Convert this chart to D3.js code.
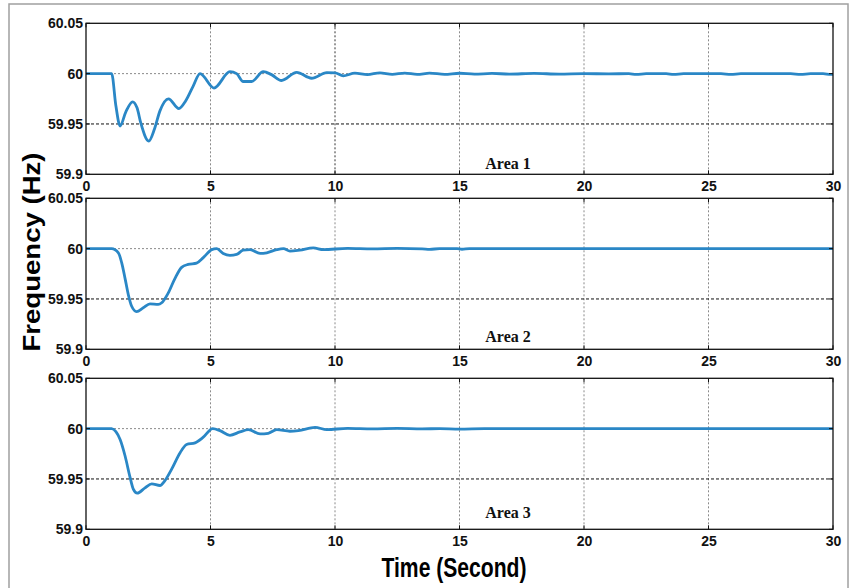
<!DOCTYPE html>
<html>
<head>
<meta charset="utf-8">
<script src="https://cdn.jsdelivr.net/npm/d3@7"></script>
<style>
  html, body { margin: 0; padding: 0; background: #fff; }
  svg { display: block; }
</style>
</head>
<body>
<svg id="chart" width="849" height="588"></svg>
<script>
// Frequency response of a three-area system after a load disturbance
const timeTicks = [0, 5, 10, 15, 20, 25, 30];
const freqTicks = [59.9, 59.95, 60, 60.05];
const freqTickLabels = ["59.9", "59.95", "60", "60.05"];
const areaNames = ["Area 1", "Area 2", "Area 3"];

const area1Time = [0, 1.03, 1.2, 1.37, 1.6, 1.87, 2.05, 2.2, 2.52, 2.75, 2.97, 3.31, 3.73, 4.0, 4.3, 4.58,
  5.14, 5.78, 6.05, 6.31, 6.65, 7.12, 7.45, 7.85, 8.46, 9.06, 9.67, 10.0, 10.33, 10.8, 11.3, 11.8,
  12.3, 12.8, 13.3, 13.8, 14.4, 15.0, 15.6, 16.3, 17.0, 18.0, 19.0, 20.0, 21.0, 21.8, 22.1, 22.5,
  23.3, 23.6, 24.0, 25.5, 25.9, 26.3, 28.3, 28.7, 29.1, 29.6, 29.9, 30.0];
const area1Freq = [60, 60, 59.968, 59.948, 59.962, 59.972, 59.966, 59.951, 59.933, 59.945, 59.963, 59.975,
  59.9653, 59.9728, 59.9874, 60.0, 59.9857, 60.0019, 60.0, 59.9922, 59.9922, 60.0019, 59.999, 59.9932,
  60.0013, 59.9954, 60.001, 60.0008, 59.9978, 60.0005, 59.999, 60.0008, 59.9992, 60.0006, 59.9992,
  60.0005, 59.9993, 60.0004, 59.9995, 60.0002, 59.9996, 60.0002, 59.9996, 60.0, 59.9998, 60.0,
  59.9992, 60.0, 60.0, 59.9992, 60.0, 60.0, 59.9992, 60.0, 60.0, 59.9992, 60.0, 60.0, 59.9992, 59.9993];

const area2Time = [0, 1.03, 1.3, 1.43, 1.57, 1.7, 1.83, 2.03, 2.3, 2.57, 2.9, 3.04, 3.3, 3.57, 3.84, 4.1,
  4.44, 4.71, 5.05, 5.25, 5.51, 5.78, 6.05, 6.31, 6.59, 6.99, 7.26, 7.66, 7.93, 8.19, 8.59, 9.13,
  9.53, 10.5, 11.5, 12.5, 13.5, 13.8, 14.2, 14.9, 15.1, 15.4, 17, 20, 25, 30];
const area2Freq = [60, 60, 59.9959, 59.9863, 59.9702, 59.9542, 59.943, 59.9375, 59.9413, 59.9452, 59.9446,
  59.9462, 59.9558, 59.9702, 59.9814, 59.9843, 59.9856, 59.9911, 59.999, 60.0, 59.9952, 59.9933,
  59.9942, 59.9985, 59.999, 59.9952, 59.9959, 59.999, 60.0, 59.9975, 59.9985, 60.0007, 59.999,
  60.0003, 59.9998, 60.0002, 59.9998, 59.9993, 60.0, 60.0, 59.9994, 60.0, 60.0, 60.0, 60.0, 60.0];

const area3Time = [0, 1.03, 1.2, 1.37, 1.57, 1.77, 1.9, 2.06, 2.37, 2.64, 2.97, 3.17, 3.44, 3.78, 4.04,
  4.38, 4.71, 5.09, 5.38, 5.78, 6.18, 6.52, 6.99, 7.32, 7.66, 8.19, 8.53, 9.2, 9.67, 10.5, 11.5,
  12.5, 13.5, 14.2, 15.0, 16, 20, 25, 30];
const area3Freq = [60, 60, 59.997, 59.9892, 59.9728, 59.9516, 59.94, 59.9359, 59.9412, 59.9451, 59.9435,
  59.9484, 59.9598, 59.9761, 59.9843, 59.9859, 59.9915, 60.0, 59.998, 59.9934, 59.9967, 59.999,
  59.9947, 59.9954, 59.999, 59.9974, 59.998, 60.0013, 59.999, 60.0003, 59.9998, 60.0002, 59.9998,
  60.0, 59.9996, 60.0, 60.0, 60.0, 60.0];

const seriesTime = [area1Time, area2Time, area3Time];
const seriesFreq = [area1Freq, area2Freq, area3Freq];

// Layout of the three stacked axes
const plotLeft = 86, plotRight = 833;
const panelTops = [23.3, 198.3, 378.3];
const panelHeight = 151;
const areaLabelOffset = [5, 7, 11];

const svg = d3.select("#chart");
const sansBold = "'Liberation Sans', Arial, sans-serif";

// Outer figure border
svg.append("rect")
  .attr("x", 9).attr("y", 4).attr("width", 839).attr("height", 620)
  .attr("fill", "none").attr("stroke", "#a0a0a0").attr("stroke-width", 1.5);

const x = d3.scaleLinear().domain([0, 30]).range([plotLeft, plotRight]);

panelTops.forEach((top, i) => {
  const bottom = top + panelHeight;
  const y = d3.scaleLinear().domain([59.9, 60.05]).range([bottom, top]);
  const g = svg.append("g");

  // Vertical grid
  g.selectAll("line.vgrid")
    .data(timeTicks.filter(t => t > 0 && t < 30))
    .join("line")
    .attr("x1", d => x(d)).attr("x2", d => x(d))
    .attr("y1", top).attr("y2", bottom)
    .attr("stroke", d => (i === 0 && d === 10) ? "#333" : "#8a8a8a")
    .attr("stroke-width", 1)
    .attr("stroke-dasharray", "2,2");

  // Horizontal grid
  g.selectAll("line.hgrid")
    .data(freqTicks.filter(f => f > 59.9 && f < 60.05))
    .join("line")
    .attr("x1", plotLeft).attr("x2", plotRight)
    .attr("y1", d => y(d)).attr("y2", d => y(d))
    .attr("stroke", d => d < 59.99 ? "#111" : "#8a8a8a")
    .attr("stroke-width", 1)
    .attr("stroke-dasharray", d => d < 59.99 ? "3,2" : "2,2");

  // Frequency trace
  const pts = seriesTime[i].map((t, k) => [t, seriesFreq[i][k]]);
  const line = d3.line()
    .x(d => x(d[0]))
    .y(d => y(d[1]))
    .curve(d3.curveMonotoneX);
  g.append("path")
    .attr("d", line(pts))
    .attr("fill", "none")
    .attr("stroke", "#2a87c6")
    .attr("stroke-width", 2.8)
    .attr("stroke-linejoin", "round");

  // Axes box
  g.append("rect")
    .attr("x", plotLeft).attr("y", top)
    .attr("width", plotRight - plotLeft).attr("height", panelHeight)
    .attr("fill", "none").attr("stroke", "#111").attr("stroke-width", 1.3);

  // Inner ticks on all sides
  const tickLen = 4;
  timeTicks.forEach(t => {
    g.append("line").attr("x1", x(t)).attr("x2", x(t)).attr("y1", bottom).attr("y2", bottom - tickLen)
      .attr("stroke", "#111");
    g.append("line").attr("x1", x(t)).attr("x2", x(t)).attr("y1", top).attr("y2", top + tickLen)
      .attr("stroke", "#111");
  });
  freqTicks.forEach(f => {
    g.append("line").attr("x1", plotLeft).attr("x2", plotLeft + tickLen).attr("y1", y(f)).attr("y2", y(f))
      .attr("stroke", "#111");
    g.append("line").attr("x1", plotRight).attr("x2", plotRight - tickLen).attr("y1", y(f)).attr("y2", y(f))
      .attr("stroke", "#111");
  });

  // Bottom tick labels
  const xAxis = d3.axisBottom(x).tickValues(timeTicks).tickSize(0).tickPadding(0).tickFormat(d3.format("d"));
  const xa = g.append("g").attr("transform", `translate(0,${bottom + 7})`).call(xAxis);
  xa.select(".domain").remove();
  xa.selectAll("text")
    .attr("font-family", sansBold).attr("font-weight", "bold").attr("font-size", 14)
    .attr("fill", "#111");

  // Left tick labels
  const yAxis = d3.axisLeft(y).tickValues(freqTicks).tickSize(0).tickPadding(3)
    .tickFormat((d, k) => freqTickLabels[k]);
  const ya = g.append("g").attr("transform", `translate(${plotLeft},0)`).call(yAxis);
  ya.select(".domain").remove();
  ya.selectAll("text")
    .attr("font-family", sansBold).attr("font-weight", "bold").attr("font-size", 14)
    .attr("fill", "#111");

  // Area name
  g.append("text")
    .attr("x", 508).attr("y", bottom - areaLabelOffset[i])
    .attr("text-anchor", "middle")
    .attr("font-family", "'Liberation Serif', 'Times New Roman', serif")
    .attr("font-weight", "bold").attr("font-size", 16)
    .attr("fill", "#111")
    .text(areaNames[i]);
});

// Axis titles
svg.append("text")
  .attr("transform", "translate(40,252) rotate(-90)")
  .attr("text-anchor", "middle")
  .attr("font-family", sansBold).attr("font-weight", "bold").attr("font-size", 24)
  .attr("textLength", 199).attr("lengthAdjust", "spacingAndGlyphs")
  .attr("fill", "#000")
  .text("Frequency (Hz)");

svg.append("text")
  .attr("x", 454).attr("y", 577)
  .attr("text-anchor", "middle")
  .attr("font-family", sansBold).attr("font-weight", "bold").attr("font-size", 28)
  .attr("textLength", 145).attr("lengthAdjust", "spacingAndGlyphs")
  .attr("fill", "#000")
  .text("Time (Second)");
</script>
</body>
</html>
